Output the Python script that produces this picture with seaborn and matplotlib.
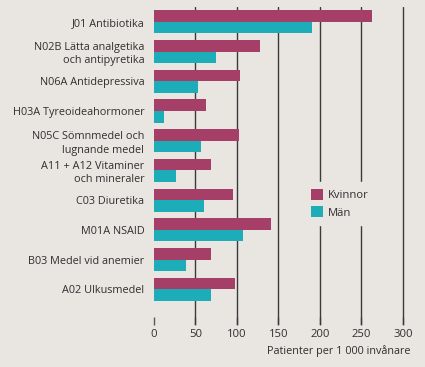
import matplotlib
matplotlib.use("Agg")
import matplotlib.pyplot as plt
import seaborn as sns
import pandas as pd

categories = [
    "J01 Antibiotika",
    "N02B Lätta analgetika\noch antipyretika",
    "N06A Antidepressiva",
    "H03A Tyreoideahormoner",
    "N05C Sömnmedel och\nlugnande medel",
    "A11 + A12 Vitaminer\noch mineraler",
    "C03 Diuretika",
    "M01A NSAID",
    "B03 Medel vid anemier",
    "A02 Ulkusmedel",
]
kvinnor = [263, 128, 104, 63, 102, 69, 95, 141, 69, 98]
man = [191, 75, 53, 12, 57, 26, 60, 107, 38, 69]
series_names = ["Kvinnor", "Män"]
xticks = [0, 50, 100, 150, 200, 250, 300]
xlabel = "Patienter per 1 000 invånare"

bg = "#e9e6e2"
colors = ["#a63f67", "#1cadb9"]
textc = "#2f2f2f"
fs = 7.8

sns.set_theme(style="white")
plt.rcParams["font.family"] = ["Open Sans", "DejaVu Sans"]

df = pd.DataFrame({
    "cat": categories * 2,
    "val": kvinnor + man,
    "sex": [series_names[0]] * len(categories) + [series_names[1]] * len(categories),
})

fig = plt.figure(figsize=(4.25, 3.67), dpi=100, facecolor=bg)
ax = fig.add_axes([154 / 425, (367 - 325) / 367, (407 - 154) / 425, (325 - 7) / 367])
ax.set_facecolor(bg)

sns.barplot(data=df, y="cat", x="val", hue="sex", palette=colors, orient="h",
            width=0.78, ax=ax, saturation=1, linewidth=0, zorder=3)

for v in xticks[1:]:
    ax.axvline(v, color="#3a3a3a", lw=1.0, zorder=1)

ax.set_xlim(0, 305)
ax.set_ylim(10.2, -0.5)
ax.set_xticks(xticks)
ax.set_xticklabels([str(t) for t in xticks], color=textc, fontsize=fs + 0.3)
ax.tick_params(axis="x", direction="in", length=6, width=1, color="#555555", pad=3, bottom=True)
ax.tick_params(axis="y", length=0, pad=7, labelsize=fs, labelcolor=textc)
for lbl in ax.get_yticklabels():
    lbl.set_linespacing(1.3)
for s in ax.spines.values():
    s.set_visible(False)
ax.set_ylabel("")
ax.set_xlabel(xlabel, fontsize=fs, color=textc, ha="right")
ax.xaxis.set_label_coords((410 - 154) / 253, -0.062)

leg = ax.legend(title=None, loc="upper left", bbox_to_anchor=(0.573, 0.466), frameon=True,
                facecolor=bg, edgecolor=bg, framealpha=1, fontsize=fs + 0.3,
                handlelength=1.0, handleheight=1.1, handletextpad=0.5, labelspacing=0.45,
                borderpad=0.6, fancybox=False)
for t in leg.get_texts():
    t.set_color(textc)
leg.set_zorder(5)

fig.savefig("out.png", dpi=100, facecolor=bg)
